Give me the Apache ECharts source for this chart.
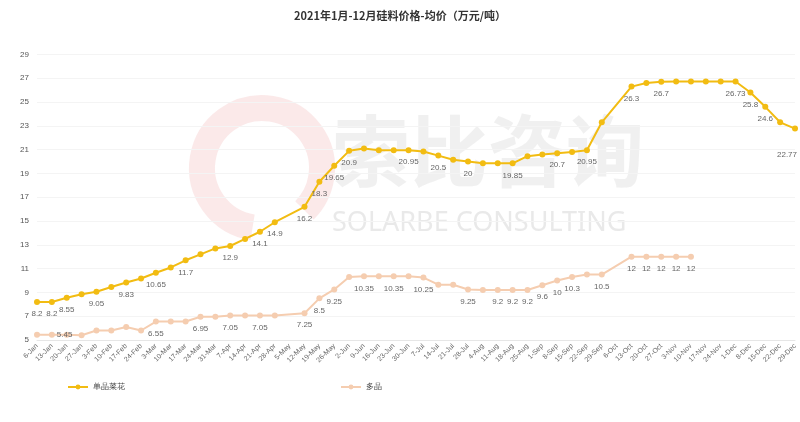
<!DOCTYPE html>
<html>
<head>
<meta charset="utf-8">
<script src="https://cdn.jsdelivr.net/npm/echarts@6/dist/echarts.min.js"></script>
<style>html,body{margin:0;padding:0;background:#fff;}#c{width:800px;height:422px;}</style>
</head>
<body>
<div id="c"></div>
<script>
var categories = ['6-Jan','13-Jan','20-Jan','27-Jan','3-Feb','10-Feb','17-Feb','24-Feb','3-Mar','10-Mar','17-Mar','24-Mar','31-Mar','7-Apr','14-Apr','21-Apr','28-Apr','5-May','12-May','19-May','26-May','2-Jun','9-Jun','16-Jun','23-Jun','30-Jun','7-Jul','14-Jul','21-Jul','28-Jul','4-Aug','11-Aug','18-Aug','25-Aug','1-Sep','8-Sep','15-Sep','22-Sep','29-Sep','6-Oct','13-Oct','20-Oct','27-Oct','3-Nov','10-Nov','17-Nov','24-Nov','1-Dec','8-Dec','15-Dec','22-Dec','29-Dec'];
var monoValues = [8.2,8.2,8.55,8.85,9.05,9.45,9.83,10.17,10.65,11.1,11.7,12.2,12.7,12.9,13.5,14.1,14.9,null,16.2,18.3,19.65,20.9,21.1,20.95,20.95,20.95,20.85,20.5,20.15,20,19.85,19.85,19.85,20.45,20.6,20.7,20.8,20.95,23.3,null,26.3,26.6,26.7,26.73,26.73,26.73,26.73,26.73,25.8,24.6,23.3,22.77];
var polyValues = [5.45,5.45,5.45,5.4,5.8,5.8,6.1,5.8,6.55,6.55,6.55,6.95,6.95,7.05,7.05,7.05,7.05,null,7.25,8.5,9.25,10.3,10.35,10.35,10.35,10.35,10.25,9.65,9.65,9.25,9.2,9.2,9.2,9.2,9.6,10,10.3,10.5,10.5,null,12,12,12,12,12,null,null,null,null,null,null,null];
var monoLabelIdx = [0,1,2,4,6,8,10,13,15,16,18,19,20,21,25,27,29,32,35,37,40,42,47,48,49,51];
var polyLabelIdx = [1,8,11,13,15,18,19,20,22,24,26,29,31,32,33,34,35,36,38,40,41,42,43,44];
var yTicks = {min: 5, max: 29, interval: 2};
var seriesNames = ['单晶菜花','多晶'];

function build(vals, idx, special) {
  return vals.map(function (v, i) {
    var item = {value: v};
    if (idx.indexOf(i) >= 0) {
      item.label = {show: true};
      if (special && special[i]) {
        for (var k in special[i]) item.label[k] = special[i][k];
      }
    }
    return item;
  });
}

var chart = echarts.init(document.getElementById('c'));
var labelStyle = {show: false, position: 'bottom', distance: 5, fontSize: 8, color: '#666', fontFamily: 'Liberation Sans, Arial, sans-serif'};
chart.setOption({
  animation: false,
  title: {
    text: '2021年1月-12月硅料价格-均价（万元/吨）',
    left: 'center', top: 5,
    textStyle: {fontSize: 11, fontWeight: 'bold', color: '#333', fontFamily: 'Noto Sans CJK SC, sans-serif'}
  },
  graphic: [
    {type: 'arc', shape: {cx: 262, cy: 168, r: 60, startAngle: Math.PI * 0.55, endAngle: Math.PI * 2.25}, style: {stroke: '#f7d3d3', lineWidth: 26, fill: null, opacity: 0.5}, z: -10},
    {type: 'text', left: 332, top: 112, style: {text: '索比咨询', font: 'bold 78px "Noto Sans CJK SC"', fill: '#ebebeb', opacity: 0.75}, z: -10},
    {type: 'text', left: 332, top: 210, style: {text: 'SOLARBE CONSULTING', font: '27px "Noto Sans", sans-serif', fill: '#e3e3e3', opacity: 0.8}, z: -10}
  ],
  legend: [
    {data: [seriesNames[0]], left: 62, top: 378, itemWidth: 20, itemHeight: 6, textStyle: {fontSize: 8, color: '#444'}},
    {data: [seriesNames[1]], left: 335, top: 378, itemWidth: 20, itemHeight: 6, textStyle: {fontSize: 8, color: '#444'}}
  ],
  grid: {left: 37, right: 5, top: 54.5, bottom: 82, containLabel: false},
  xAxis: {
    type: 'category', data: categories, boundaryGap: false,
    axisLine: {lineStyle: {color: '#e6e6e6'}},
    axisTick: {show: false},
    axisLabel: {interval: 0, rotate: 45, fontSize: 7, color: '#666', margin: 5}
  },
  yAxis: {
    type: 'value', min: yTicks.min, max: yTicks.max, interval: yTicks.interval,
    axisLine: {show: false}, axisTick: {show: false},
    axisLabel: {fontSize: 8, color: '#555', margin: 8},
    splitLine: {lineStyle: {color: '#f4f4f4'}}
  },
  series: [
    {
      name: seriesNames[0], type: 'line', connectNulls: true,
      data: build(monoValues, monoLabelIdx, {51: {offset: [-8, 14]}}),
      symbol: 'circle', symbolSize: 6,
      lineStyle: {color: '#F2BC12', width: 2},
      itemStyle: {color: '#F2BC12'},
      label: labelStyle
    },
    {
      name: seriesNames[1], type: 'line', connectNulls: true,
      data: build(polyValues, polyLabelIdx, {1: {position: 'right', distance: 2}}),
      symbol: 'circle', symbolSize: 6,
      lineStyle: {color: '#F5CDB0', width: 2},
      itemStyle: {color: '#F5CDB0'},
      label: labelStyle
    }
  ]
});
</script>
</body>
</html>
